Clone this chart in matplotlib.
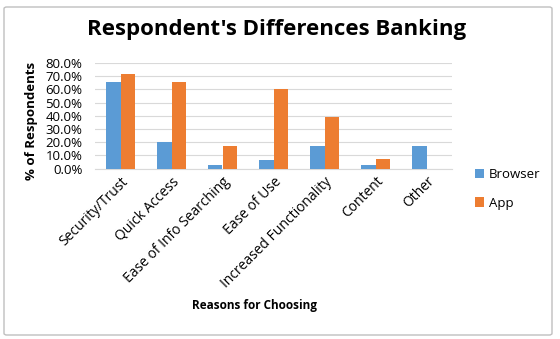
import numpy as np
import matplotlib.pyplot as plt
from matplotlib.patches import FancyBboxPatch

# Values (% of respondents)
reasons = ['Security/Trust', 'Quick Access', 'Ease of Info Searching', 'Ease of Use',
           'Increased Functionality', 'Content', 'Other']
browser = [65.8, 20.3, 3.0, 6.3, 17.0, 3.0, 17.2]
app = [71.8, 65.5, 17.2, 60.4, 38.9, 7.1, 0.0]

plt.rcParams['font.family'] = ['Open Sans', 'DejaVu Sans']

fig = plt.figure(figsize=(5.6, 3.39), dpi=100)
W, H = 560, 339
ax = fig.add_axes([95 / W, 1 - 168.5 / H, (452 - 95) / W, (168.5 - 63) / H])

x = np.arange(len(reasons))
w = 0.285
ax.bar(x - w / 2, browser, w, color='#5B9BD5', label='Browser', zorder=3)
ax.bar(x + w / 2, app, w, color='#ED7D31', label='App', zorder=3)

ax.set_xlim(-0.5, len(reasons) - 0.5)
ax.set_ylim(0, 80)
ax.set_yticks(np.arange(0, 81, 10))
ax.set_yticklabels([f'{v:.1f}%' for v in np.arange(0, 81, 10)], fontsize=9.5)
ax.yaxis.grid(True, color='#d9d9d9', linewidth=0.8, zorder=0)
ax.tick_params(axis='y', length=0, pad=9)
ax.tick_params(axis='x', length=0, pad=4)
ax.set_xticks(x)
ax.set_xticklabels(reasons, rotation=45, ha='right', rotation_mode='anchor', fontsize=10)
for s in ['top', 'right', 'left']:
    ax.spines[s].set_visible(False)
ax.spines['bottom'].set_color('#d9d9d9')

fig.text(277 / W, 1 - 29 / H, "Respondent's Differences Banking", ha='center', va='center',
         fontsize=16, fontweight='bold')
fig.text(31 / W, 1 - 121 / H, '% of Respondents', ha='center', va='center', rotation=90,
         fontsize=9.5, fontweight='bold')
fig.text(255 / W, 1 - 305 / H, 'Reasons for Choosing', ha='center', va='center',
         fontsize=8.5, fontweight='bold')

ax.legend(loc='center left', bbox_to_anchor=(463 / W, 1 - 189 / H), bbox_transform=fig.transFigure,
          frameon=False, fontsize=9.5, handlelength=0.7, handleheight=0.7, handletextpad=0.35,
          labelspacing=1.15)

fig.patches.append(FancyBboxPatch((4 / W, 4 / H), 548 / W, 328 / H, boxstyle='round,pad=0,rounding_size=0.005',
                                  transform=fig.transFigure, fill=False, edgecolor='#bfbfbf', linewidth=1))

fig.savefig('out.png', dpi=100)
